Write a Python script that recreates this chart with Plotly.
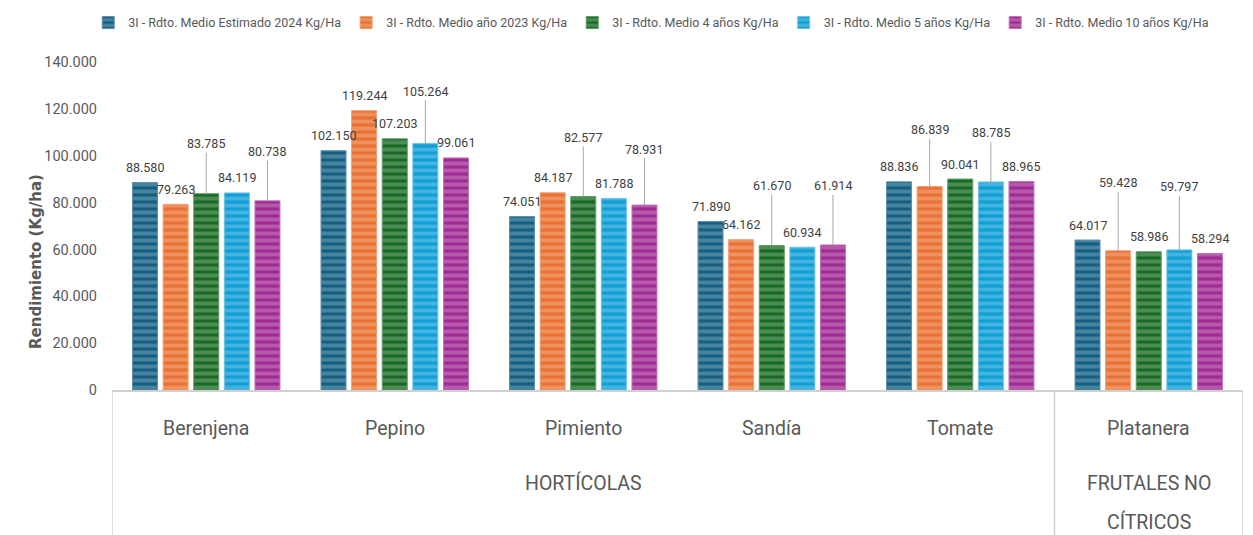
import plotly.graph_objects as go

# ---------------- data ----------------
categories = ["Berenjena", "Pepino", "Pimiento", "Sandía", "Tomate", "Platanera"]
parent_groups = ["HORTÍCOLAS", "HORTÍCOLAS", "HORTÍCOLAS", "HORTÍCOLAS", "HORTÍCOLAS", "FRUTALES NO CÍTRICOS"]

series_names = [
    "3I - Rdto. Medio Estimado 2024 Kg/Ha",
    "3I - Rdto. Medio año 2023 Kg/Ha",
    "3I - Rdto. Medio 4 años Kg/Ha",
    "3I - Rdto. Medio 5 años Kg/Ha",
    "3I - Rdto. Medio 10 años Kg/Ha",
]
rdto_2024 = [88580, 102150, 74051, 71890, 88836, 64017]
rdto_2023 = [79263, 119244, 84187, 64162, 86839, 59428]
rdto_4y = [83785, 107203, 82577, 61670, 90041, 58986]
rdto_5y = [84119, 105264, 81788, 60934, 88785, 59797]
rdto_10y = [80738, 99061, 78931, 61914, 88965, 58294]
series_values = [rdto_2024, rdto_2023, rdto_4y, rdto_5y, rdto_10y]

y_ticks = [0, 20000, 40000, 60000, 80000, 100000, 120000, 140000]

# ---------------- style ----------------
colors = ["#156082", "#E97132", "#196B24", "#0F9ED5", "#A02B93"]
edge_colors = ["#5e8fab", "#f0a070", "#5f9a66", "#6cc3e8", "#c274ba"]
# label offsets (pixels above bar top); those with leader lines are larger
label_offset = {
    (2, 0): 50, (4, 0): 49,
    (3, 1): 52,
    (2, 2): 59, (4, 2): 56,
    (2, 3): 60, (4, 3): 59,
    (1, 4): 57, (3, 4): 49,
    (1, 5): 68, (3, 5): 63,
}
FONT = "Roboto, Liberation Sans, sans-serif"
GREY = "#595959"
bargap = 0.188
bargroupgap = 0.183
n_series = len(series_values)
slot = (1 - bargap) / n_series

fig = go.Figure()
for i, (name, vals) in enumerate(zip(series_names, series_values)):
    fig.add_trace(go.Bar(
        name=name, x=categories, y=vals,
        marker=dict(
            color=colors[i],
            line=dict(color=edge_colors[i], width=1),
            pattern=dict(shape="-", fillmode="overlay", fgcolor="white",
                         fgopacity=0.22, size=7, solidity=0.55),
        ),
        hovertemplate="%{x}: %{y:,.0f}<extra></extra>",
    ))

annotations = []
for i, vals in enumerate(series_values):
    for j, v in enumerate(vals):
        off = label_offset.get((i, j), 15)
        lead = (i, j) in label_offset
        annotations.append(dict(
            x=j + (i - (n_series - 1) / 2) * slot, y=v, xref="x", yref="y",
            text=f"{v:,}".replace(",", "."),
            showarrow=True, arrowhead=0, arrowwidth=1, standoff=0,
            arrowcolor="#a6a6a6" if lead else "rgba(0,0,0,0)",
            ax=0, ay=-off,
            font=dict(family=FONT, size=12.5, color="#404040"),
        ))

# category labels
for j, c in enumerate(categories):
    annotations.append(dict(
        x=j, y=-0.116, xref="x", yref="paper", text=c, showarrow=False,
        yanchor="middle", font=dict(family=FONT, size=19.5, color=GREY)))

# parent group labels
groups_seen = []
for g in parent_groups:
    if g not in groups_seen:
        groups_seen.append(g)
for g in groups_seen:
    idx = [j for j, p in enumerate(parent_groups) if p == g]
    xc = (idx[0] + idx[-1]) / 2
    if g == "FRUTALES NO CÍTRICOS":
        parts = ["FRUTALES NO", "CÍTRICOS"]
        ys = [-0.284, -0.403]
    else:
        parts = [g]
        ys = [-0.284]
    for t, yy in zip(parts, ys):
        annotations.append(dict(
            x=xc, y=yy, xref="x", yref="paper", text=t, showarrow=False,
            yanchor="middle", font=dict(family=FONT, size=19.5, color=GREY)))

# y-axis title
annotations.append(dict(
    x=-0.077, y=0.393, xref="paper", yref="paper", text="<b>Rendimiento (Kg/ha)</b>",
    textangle=-90, showarrow=False,
    font=dict(family="DejaVu Sans, Liberation Sans, sans-serif", size=15, color=GREY)))

shapes = []
# box lines for the category band
bounds = [-0.5]
for j in range(1, len(parent_groups)):
    if parent_groups[j] != parent_groups[j - 1]:
        bounds.append(j - 0.5)
bounds.append(len(categories) - 0.5)
for b in bounds:
    shapes.append(dict(type="line", xref="x", yref="paper", x0=b, x1=b, y0=0, y1=-0.5,
                       line=dict(color="#d0d0d0", width=1.5)))
# chart border at far left
shapes.append(dict(type="line", xref="paper", yref="paper", x0=-0.0928, x1=-0.0928,
                   y0=-0.5, y1=1.3, line=dict(color="#dcdcdc", width=1)))

fig.update_layout(
    width=1245, height=527,
    margin=dict(l=104, r=10, t=54, b=145, autoexpand=False),
    paper_bgcolor="white", plot_bgcolor="white",
    barmode="group", bargap=bargap, bargroupgap=bargroupgap,
    separators=",.",
    font=dict(family=FONT, color=GREY),
    legend=dict(orientation="h", x=-0.021, xanchor="left", y=1.119, yanchor="middle",
                font=dict(family=FONT, size=12.5, color=GREY),
                itemwidth=30, traceorder="normal"),
    xaxis=dict(type="category", showticklabels=False, showline=True,
               linecolor="#d0d0d0", linewidth=1.5, ticks="", showgrid=False,
               range=[-0.5, len(categories) - 0.5]),
    yaxis=dict(range=[0, 140000], tickvals=y_ticks, tickformat=",.0f",
               showgrid=False, zeroline=False, showline=False, ticks="",
               ticklabelstandoff=14,
               tickfont=dict(family=FONT, size=14.5, color=GREY)),
    annotations=annotations, shapes=shapes,
)

fig.write_html("out.html")
